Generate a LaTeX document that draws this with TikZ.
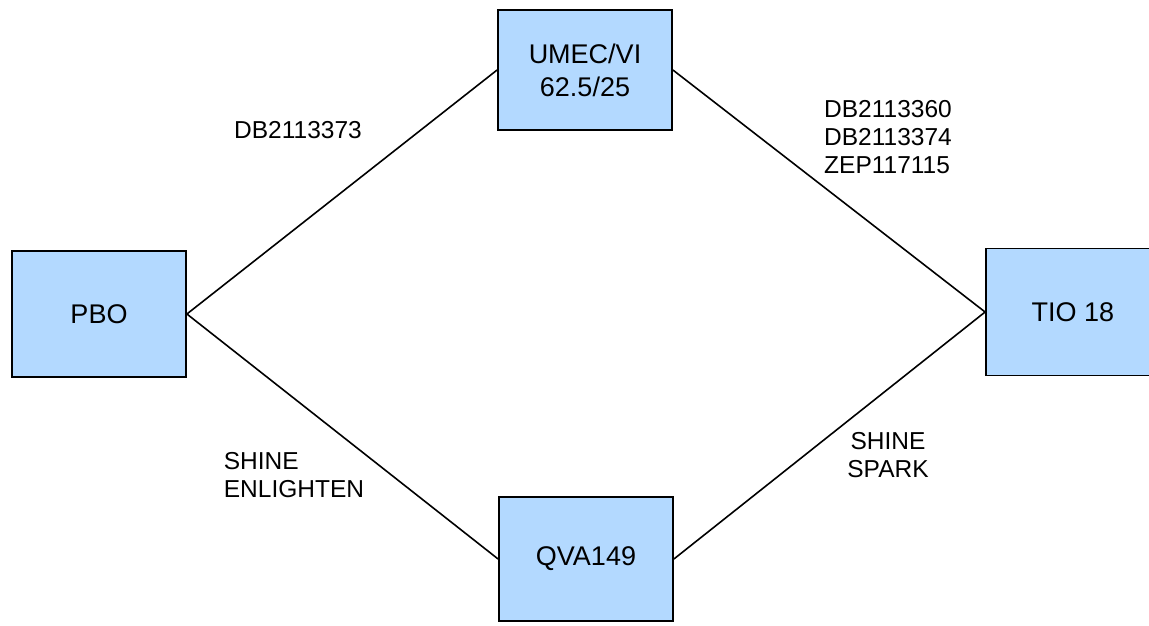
\documentclass[tikz,border=0pt]{standalone}
\usepackage{fontspec}
\setmainfont{Liberation Sans}
\definecolor{drugblue}{RGB}{179,217,255}
\tikzset{
  drug/.style={draw=black, line width=1.8pt, fill=drugblue, minimum width=174pt,
    minimum height=122pt, inner sep=0pt, align=center, font=\fontsize{27}{33}\selectfont},
  trial/.style={inner sep=0pt, font=\fontsize{24.5}{28}\selectfont},
  link/.style={black, line width=1.6pt}
}
\begin{document}
\begin{tikzpicture}[x=1pt,y=-1pt]
	\useasboundingbox (0,0) rectangle (1149,626);
	% treatment arms
	\node[drug, minimum height=126pt] (pbo) at (99,314) {PBO};
	\node[drug, minimum height=120pt] (umec) at (585,70) {UMEC/VI\\62.5/25};
	\node[drug, minimum height=124pt] (qva) at (586,559) {QVA149};
	\node[drug, minimum height=127pt] (tio) at (1073,312) {TIO 18};

	% comparisons
	\draw[link] (pbo.east)--(umec.west);
	\draw[link] (umec.east)--(tio.west);
	\draw[link] (pbo.east)--(qva.west);
	\draw[link] (qva.east)--(tio.west);

	% study labels
	\node[trial] (s1) at (298,130) {DB2113373};
	\node[trial, align=left] (s2) at (888,137) {DB2113360\\DB2113374\\ZEP117115};
	\node[trial, align=left] (s3) at (294,475) {SHINE\\ENLIGHTEN};
	\node[trial, align=center] (s4) at (888,455) {SHINE\\SPARK};
\end{tikzpicture}
\end{document}
